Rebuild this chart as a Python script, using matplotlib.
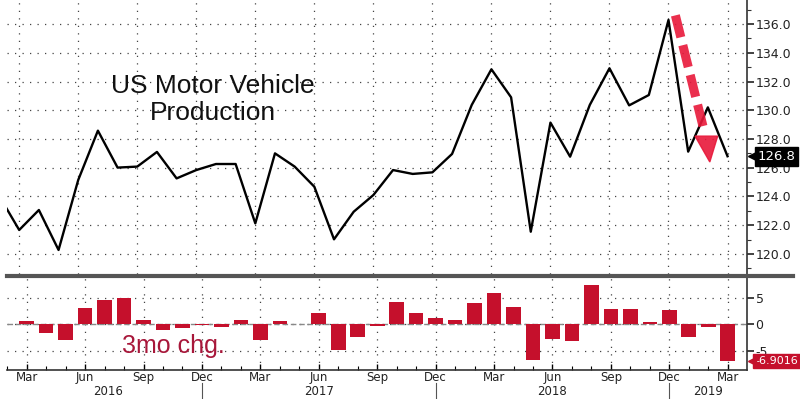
import numpy as np
import matplotlib
matplotlib.use("Agg")
from matplotlib import pyplot as plt
from matplotlib.lines import Line2D
from matplotlib.ticker import MultipleLocator

# monthly data, Feb 2016 .. Mar 2019
months = ["Feb", "Mar", "Apr", "May", "Jun", "Jul", "Aug", "Sep", "Oct", "Nov", "Dec",
          "Jan", "Feb", "Mar", "Apr", "May", "Jun", "Jul", "Aug", "Sep", "Oct", "Nov", "Dec",
          "Jan", "Feb", "Mar", "Apr", "May", "Jun", "Jul", "Aug", "Sep", "Oct", "Nov", "Dec",
          "Jan", "Feb", "Mar"]
production = [124.0, 121.67, 123.06, 120.28, 125.15, 128.58, 126.01, 126.08, 127.1, 125.26, 125.84,
              126.26, 126.26, 122.13, 127.0, 126.08, 124.68, 121.02, 122.94, 124.1, 125.84, 125.57, 125.68,
              126.96, 130.37, 132.85, 130.9, 121.55, 129.14, 126.77, 130.37, 132.92, 130.34, 131.06, 136.28,
              127.12, 130.2, 126.8]
# 3 month % change, Mar 2016 .. Mar 2019
chg3m = [0.6, -1.7, -3.0, 3.1, 4.6, 4.9, 0.8, -1.1, -0.6, -0.1,
         -0.5, 0.9, -3.0, 0.6, 0.0, 2.2, -4.8, -2.4, -0.4, 4.1, 2.1, 1.25,
         0.9, 4.0, 5.85, 3.2, -6.7, -2.8, -3.1, 7.4, 2.9, 2.9, 0.5, 2.65,
         -2.45, -0.55, -6.9016]
years = ["2016", "2017", "2018", "2019"]

x = np.arange(len(months))
xc = x[1:]
red = "#c5102c"
quarter = [i for i in x if months[i] in ("Mar", "Jun", "Sep", "Dec")]
dec_pos = [i for i in x if months[i] == "Dec"]
dots = (0, (1, 5))

plt.rcParams["font.family"] = ["DejaVu Sans"]
fig = plt.figure(figsize=(8, 3.99), dpi=100)
left, right = 0.009, 0.934
ax = fig.add_axes([left, 0.313, right - left, 0.687])
ax2 = fig.add_axes([left, 0.073, right - left, 0.233])

xlim = (0.39, 38.0)

# top panel
ax.plot(x, production, color="black", lw=1.7, zorder=3)
ax.set_xlim(*xlim)
ax.set_ylim(118.6, 137.67)
ax.yaxis.tick_right()
ax.set_yticks(np.arange(120, 137, 2))
ax.set_yticklabels([f"{v:.1f}" for v in np.arange(120, 137, 2)])
ax.yaxis.set_minor_locator(MultipleLocator(1))
ax.tick_params(axis="y", which="major", direction="out", length=5, width=1.2,
               labelsize=9, colors="#222222", pad=1)
ax.tick_params(axis="y", which="minor", direction="out", length=3, width=0.8, colors="#333333")
ax.set_xticks(quarter)
ax.tick_params(axis="x", length=0, labelbottom=False)
ax.grid(True, color="#444444", linestyle=dots, lw=0.9)
for s in ("left", "top", "bottom"):
    ax.spines[s].set_visible(False)
ax.spines["right"].set_color("#333333")
ax.spines["right"].set_linewidth(1.2)

ax.text(10.85, 130.75, "US Motor Vehicle\nProduction", ha="center", va="center",
        fontsize=19, family="Liberation Sans", linespacing=1.2, color="#111111")

# red dashed arrow
ax.plot([34.35, 35.75], [136.6, 128.9], color="#e8183a", lw=6.5, ls=(0, (2.5, 0.9)),
        dash_capstyle="butt", alpha=0.9, zorder=4)
ax.fill([35.35, 36.5, 36.1], [128.2, 128.2, 126.4], color="#e8183a", alpha=0.9, zorder=4)

# last value tag
ax.text(1.014, 126.8, "126.8", transform=ax.get_yaxis_transform(), ha="left", va="center",
        color="white", fontsize=9.5, bbox=dict(boxstyle="square,pad=0.22", fc="black", ec="black"),
        zorder=6, clip_on=False)
ax.plot([1.008], [126.8], marker="<", ms=7, color="black", transform=ax.get_yaxis_transform(),
        clip_on=False, zorder=6)

# bottom panel
ax2.bar(xc, chg3m, width=0.75, color=red, zorder=3)
ax2.axhline(0, color="#888888", lw=1.0, ls=(0, (4, 2)), zorder=2)
ax2.set_xlim(*xlim)
ax2.set_ylim(-8.5, 8.85)
ax2.yaxis.tick_right()
ax2.set_yticks([-5, 0, 5])
ax2.set_yticklabels(["-5", "0", "5"])
ax2.tick_params(axis="y", which="major", direction="out", length=5, width=1.2,
                labelsize=9, colors="#222222", pad=1)
ax2.set_xticks(quarter)
ax2.set_xticklabels([months[i] for i in quarter], fontsize=8.5, color="#222222")
ax2.set_xticks(x, minor=True)
ax2.tick_params(axis="x", which="major", direction="in", length=4, width=1, pad=1)
ax2.tick_params(axis="x", which="minor", direction="in", length=3, width=0.8)
ax2.grid(True, axis="both", which="major", color="#444444", linestyle=dots, lw=0.9)
for s in ("left", "top"):
    ax2.spines[s].set_visible(False)
for s in ("right", "bottom"):
    ax2.spines[s].set_color("#333333")
    ax2.spines[s].set_linewidth(1.2)

ax2.text(8.55, -4.0, "3mo chg.", color="#a8173a", fontsize=18, family="Liberation Sans",
         ha="center", va="center", zorder=5)

ax2.text(1.011, chg3m[-1], "-6.9016", transform=ax2.get_yaxis_transform(), ha="left",
         va="center", color="white", fontsize=8,
         bbox=dict(boxstyle="square,pad=0.18", fc=red, ec=red), zorder=6, clip_on=False)
ax2.plot([1.006], [chg3m[-1]], marker="<", ms=6, color=red, transform=ax2.get_yaxis_transform(),
         clip_on=False, zorder=6)

# year labels and separators
year_pos = [5.2, 16.0, 28.0, 36.0]
for xp, yr in zip(year_pos, years):
    ax2.text(xp, -0.23, yr, transform=ax2.get_xaxis_transform(), ha="center", va="center",
             fontsize=8.5, color="#222222", clip_on=False)
for d in dec_pos:
    ax2.plot([d, d], [-0.14, -0.32], transform=ax2.get_xaxis_transform(), color="#555555",
             lw=0.8, clip_on=False)

# thick separator between panels
fig.add_artist(Line2D([0.009, 0.991], [0.309, 0.309], color="#555555", lw=3.0))

fig.savefig("out.png", dpi=100, facecolor="white")
